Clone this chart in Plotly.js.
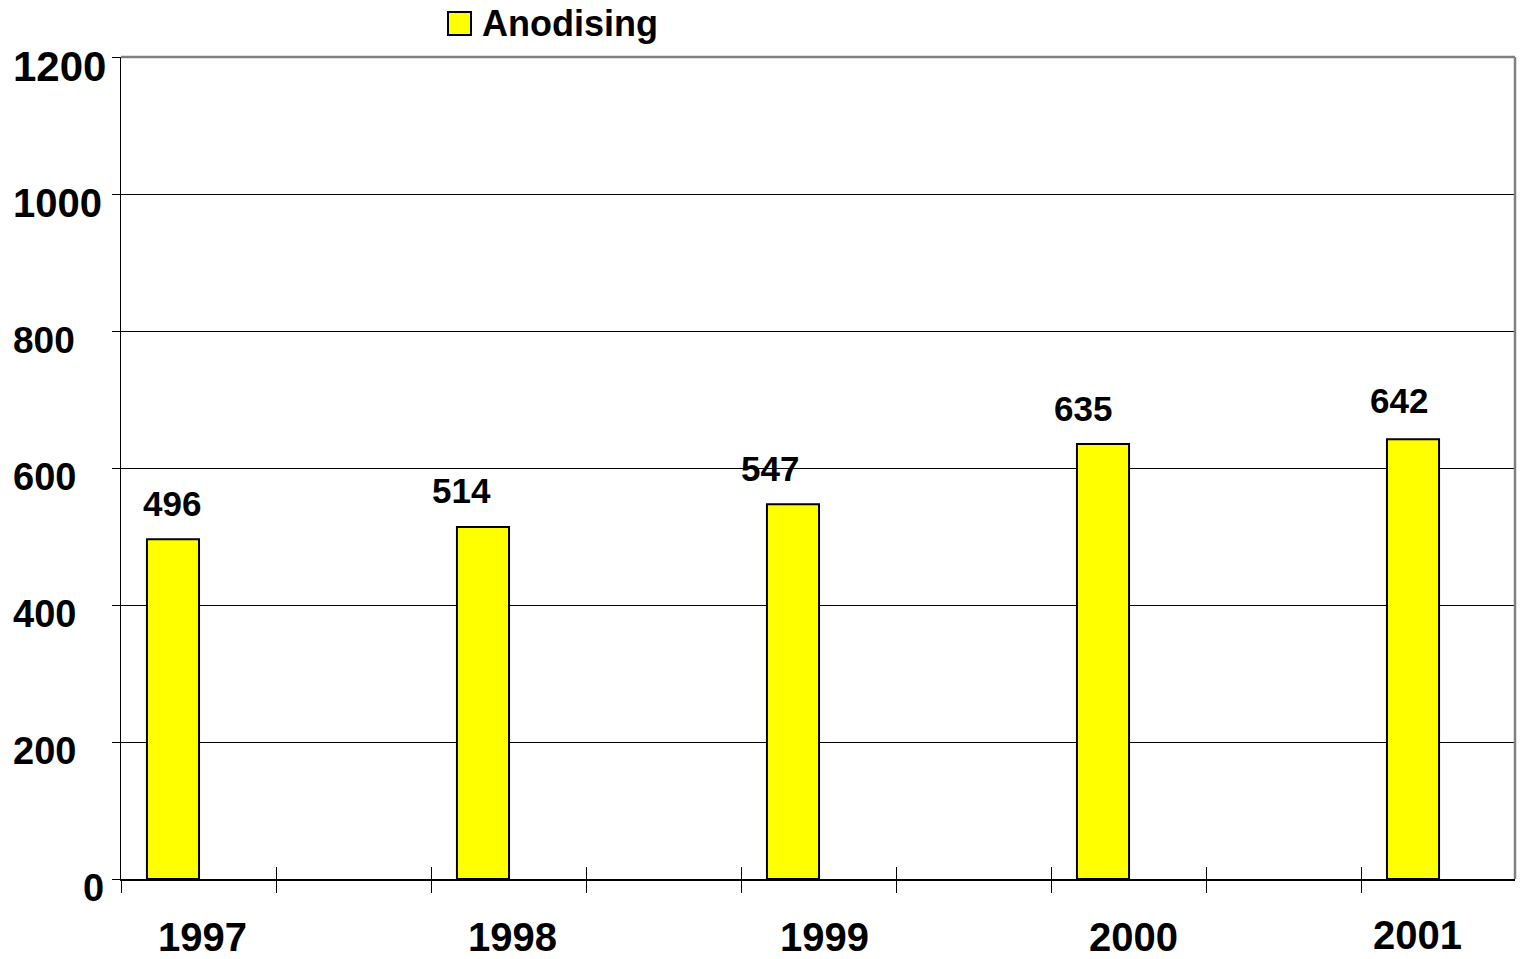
<!DOCTYPE html>
<html>
<head>
<meta charset="utf-8">
<script src="https://cdn.plot.ly/plotly-3.0.1.min.js"></script>
<style>html,body{margin:0;padding:0;background:#fff;}#chart{width:1521px;height:959px;}</style>
</head>
<body>
<div id="chart"></div>
<script>
// ---- data ----
const years = ['1997', '1998', '1999', '2000', '2001'];
const anodising = [496, 514, 547, 635, 642];
const yTickValues = [0, 200, 400, 600, 800, 1000, 1200];
const yTickLabels = ['0', '200', '400', '600', '800', '1000', '1200'];
const seriesName = 'Anodising';

// ---- style (not data) ----
const FONT = '"Liberation Sans", Arial, sans-serif';
const labelShiftX = [-1, -21, -23, -20, -14];
const labelShiftY = [36, 36, 36, 36, 39];
const yearShiftX = [30, 30, 31, 30, 4];
const yearShiftY = [-58, -58, -58, -58, -56];
const yLabelSize = [38, 38, 38, 38, 37, 40, 42];
const yLabelRightAligned = [true, false, false, false, false, false, false];

const xIdx = years.map((_, i) => i);
const xRange = [-0.1677, 4.329];
const tickStart = xRange[0];

const trace = {
  type: 'bar',
  x: xIdx,
  y: anodising,
  width: 0.168,
  marker: {color: '#FFFF00', line: {color: '#000000', width: 2}},
  showlegend: false,
  hoverinfo: 'skip'
};

const annotations = [];
// data labels
anodising.forEach((v, i) => {
  annotations.push({
    x: xIdx[i], y: v, xref: 'x', yref: 'y',
    text: String(v), showarrow: false,
    xanchor: 'center', yanchor: 'middle',
    xshift: labelShiftX[i], yshift: labelShiftY[i],
    font: {family: FONT, size: 35, color: '#000', weight: 700}
  });
});
// year labels
years.forEach((yr, i) => {
  annotations.push({
    x: xIdx[i], y: 0, xref: 'x', yref: 'paper',
    text: yr, showarrow: false,
    xanchor: 'center', yanchor: 'middle',
    xshift: yearShiftX[i], yshift: yearShiftY[i],
    font: {family: FONT, size: 40, color: '#000', weight: 700}
  });
});
// y labels
yTickValues.forEach((v, i) => {
  const right = yLabelRightAligned[i];
  annotations.push({
    x: 0, y: v, xref: 'paper', yref: 'y',
    text: yTickLabels[i], showarrow: false,
    xanchor: right ? 'right' : 'left', yanchor: 'middle',
    xshift: right ? -15 : -110, yshift: -9,
    font: {family: FONT, size: yLabelSize[i], color: '#000', weight: 700}
  });
});
// legend text
annotations.push({
  x: (480 - 121) / 1394, y: (879 - 24) / 822, xref: 'paper', yref: 'paper',
  text: seriesName, showarrow: false, xanchor: 'left', yanchor: 'middle',
  font: {family: FONT, size: 36, color: '#000', weight: 700}
});

const shapes = [
  {type: 'line', xref: 'paper', yref: 'paper', x0: 0, x1: 1, y0: 1, y1: 1, line: {color: '#808080', width: 2.5}},
  {type: 'line', xref: 'paper', yref: 'paper', x0: 1, x1: 1, y0: 0, y1: 1, line: {color: '#808080', width: 2.5}},
  {type: 'rect', xref: 'paper', yref: 'paper',
   x0: (448 - 121) / 1394, x1: (471 - 121) / 1394, y0: (879 - 35) / 822, y1: (879 - 12) / 822,
   fillcolor: '#FFFF00', line: {color: '#000', width: 2}}
];

const layout = {
  width: 1521, height: 959,
  margin: {l: 121, r: 6, t: 57, b: 80},
  paper_bgcolor: '#ffffff', plot_bgcolor: '#ffffff',
  showlegend: false,
  font: {family: FONT, color: '#000'},
  xaxis: {
    range: xRange, tickmode: 'linear', tick0: tickStart, dtick: 0.5,
    ticks: 'outside', ticklen: 12, tickwidth: 1, tickcolor: '#000',
    showticklabels: false, showgrid: false, zeroline: false,
    showline: true, linecolor: '#000', linewidth: 2, fixedrange: true
  },
  xaxis2: {
    overlaying: 'x', anchor: 'y', side: 'bottom', matches: 'x',
    range: xRange, tickmode: 'linear', tick0: tickStart, dtick: 0.5,
    ticks: 'inside', ticklen: 12, tickwidth: 1, tickcolor: '#000',
    showticklabels: false, showgrid: false, zeroline: false, showline: false
  },
  yaxis: {
    range: [0, 1200], tickmode: 'array', tickvals: yTickValues,
    showticklabels: false, ticks: 'outside', ticklen: 8, tickwidth: 1, tickcolor: '#000',
    showgrid: true, gridcolor: '#000', gridwidth: 1, zeroline: false,
    showline: true, linecolor: '#000', linewidth: 1.5, fixedrange: true
  },
  annotations: annotations,
  shapes: shapes
};

const dummy = {type: 'scatter', x: [xIdx[0]], y: [anodising[0]], xaxis: 'x2', yaxis: 'y',
  mode: 'markers', marker: {opacity: 0}, showlegend: false, hoverinfo: 'skip'};

Plotly.newPlot('chart', [trace, dummy], layout, {displayModeBar: false, staticPlot: true});
</script>
</body>
</html>
